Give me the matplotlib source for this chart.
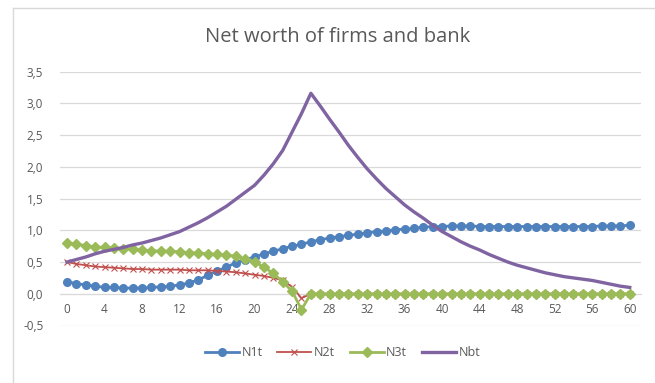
import matplotlib
matplotlib.use('Agg')
import matplotlib.pyplot as plt
from matplotlib.lines import Line2D

# data
t = list(range(61))
n1t = [0.19, 0.16, 0.14, 0.12, 0.10, 0.10, 0.09, 0.09, 0.09, 0.10,
       0.11, 0.12, 0.14, 0.17, 0.22, 0.29, 0.36, 0.42, 0.49, 0.54,
       0.58, 0.63, 0.67, 0.71, 0.75, 0.78, 0.82, 0.85, 0.88, 0.90,
       0.92, 0.94, 0.96, 0.98, 0.99, 1.01, 1.02, 1.03, 1.05, 1.06,
       1.06, 1.07, 1.07, 1.07, 1.06, 1.06, 1.06, 1.06, 1.06, 1.06,
       1.06, 1.06, 1.06, 1.06, 1.06, 1.06, 1.06, 1.07, 1.07, 1.07,
       1.08]
n2t = [0.50, 0.47, 0.45, 0.43, 0.42, 0.41, 0.40, 0.39, 0.39, 0.38,
       0.38, 0.38, 0.38, 0.37, 0.37, 0.37, 0.36, 0.35, 0.34, 0.32,
       0.30, 0.28, 0.25, 0.21, 0.11, -0.07, 0.00, 0.00, 0.00, 0.00,
       0.00, 0.00, 0.00, 0.00, 0.00, 0.00, 0.00, 0.00, 0.00, 0.00,
       0.00, 0.00, 0.00, 0.00, 0.00, 0.00, 0.00, 0.00, 0.00, 0.00,
       0.00, 0.00, 0.00, 0.00, 0.00, 0.00, 0.00, 0.00, 0.00, 0.00,
       0.00]
n3t = [0.80, 0.78, 0.76, 0.74, 0.73, 0.72, 0.71, 0.70, 0.69, 0.68,
       0.67, 0.67, 0.66, 0.65, 0.64, 0.63, 0.62, 0.61, 0.59, 0.55,
       0.50, 0.42, 0.32, 0.19, 0.04, -0.25, 0.00, 0.00, 0.00, 0.00,
       0.00, 0.00, 0.00, 0.00, 0.00, 0.00, 0.00, 0.00, 0.00, 0.00,
       0.00, 0.00, 0.00, 0.00, 0.00, 0.00, 0.00, 0.00, 0.00, 0.00,
       0.00, 0.00, 0.00, 0.00, 0.00, 0.00, 0.00, 0.00, 0.00, 0.00,
       0.00]
nbt = [0.50, 0.54, 0.58, 0.63, 0.67, 0.70, 0.73, 0.77, 0.80, 0.84,
       0.88, 0.93, 0.98, 1.05, 1.12, 1.20, 1.29, 1.38, 1.49, 1.60,
       1.71, 1.87, 2.05, 2.26, 2.55, 2.84, 3.16, 2.96, 2.75, 2.55,
       2.34, 2.15, 1.97, 1.81, 1.66, 1.53, 1.40, 1.29, 1.19, 1.08,
       0.98, 0.90, 0.82, 0.75, 0.69, 0.62, 0.56, 0.50, 0.45, 0.41,
       0.37, 0.33, 0.30, 0.27, 0.25, 0.23, 0.21, 0.18, 0.15, 0.12,
       0.10]

x_ticks = list(range(0, 61, 4))
y_ticks = [-0.5, 0.0, 0.5, 1.0, 1.5, 2.0, 2.5, 3.0, 3.5]
y_labels = ['-0,5', '0,0', '0,5', '1,0', '1,5', '2,0', '2,5', '3,0', '3,5']

plt.rcParams['font.family'] = ['Open Sans', 'DejaVu Sans']
grey = '#595959'

fig = plt.figure(figsize=(6.55, 3.83), dpi=100)
ax = fig.add_axes([60 / 655, 1 - 325.5 / 383, 581 / 655, 253.8 / 383])

ax.plot(t, n1t, color='#4F81BD', lw=2, marker='o', ms=5.5, label='N1t', zorder=3)
ax.plot(t, n2t, color='#C0504D', lw=1.3, marker='x', ms=4, mew=0.8, label='N2t', zorder=3)
ax.plot(t, n3t, color='#9BBB59', lw=2, marker='D', ms=5, label='N3t', zorder=3)
ax.plot(t, nbt, color='#8064A2', lw=2.4, label='Nbt', zorder=4)

ax.set_xlim(-0.75, 61.2)
ax.set_ylim(-0.5, 3.5)
ax.set_yticks(y_ticks)
ax.set_yticklabels(y_labels)
ax.set_xticks(x_ticks)
ax.grid(axis='y', color='#d9d9d9', lw=0.9)
ax.set_axisbelow(True)
for s in ['top', 'right', 'left']:
    ax.spines[s].set_visible(False)
ax.spines['bottom'].set_position(('data', 0))
ax.spines['bottom'].set_color('#d9d9d9')
ax.tick_params(axis='both', length=0, labelsize=8.5, labelcolor=grey)
ax.tick_params(axis='x', pad=7)
ax.tick_params(axis='y', pad=12)

fig.text(0.515, 1 - 37 / 383, 'Net worth of firms and bank', ha='center', va='center',
         fontsize=14.5, color=grey)

handles, labels = ax.get_legend_handles_labels()
fig.legend(handles, labels, loc='center', bbox_to_anchor=(0.523, 1 - 353 / 383), ncol=4,
           frameon=False, fontsize=9, labelcolor=grey, handlelength=2.7,
           columnspacing=1.2, handletextpad=0.2)

# faint chart frame
fig.add_artist(Line2D([13 / 655, 1], [1 - 8 / 383, 1 - 8 / 383], color='#d9d9d9', lw=1))
fig.add_artist(Line2D([13 / 655, 13 / 655], [0, 1 - 8 / 383], color='#d9d9d9', lw=1))

fig.savefig('out.png', dpi=100, facecolor='white')
